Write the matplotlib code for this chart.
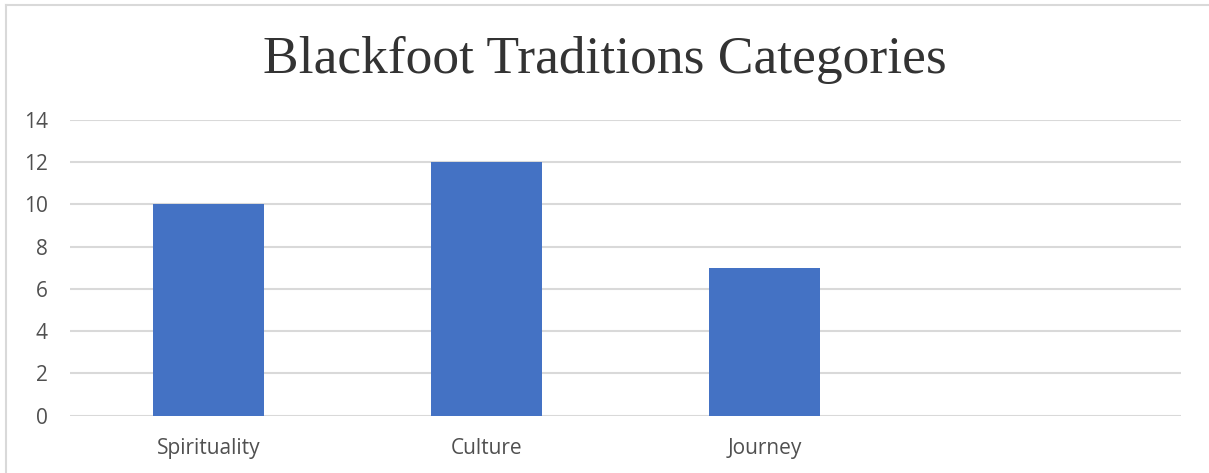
import matplotlib
matplotlib.use("Agg")
import matplotlib.pyplot as plt
from matplotlib.lines import Line2D

categories = ["Spirituality", "Culture", "Journey", ""]
counts = [10, 12, 7, 0]
y_ticks = [0, 2, 4, 6, 8, 10, 12, 14]

bar_color = "#4472C4"
grid_color = "#D9D9D9"
label_color = "#505050"

W, H = 1209, 473
fig = plt.figure(figsize=(W / 100, H / 100), dpi=100)
fig.patch.set_facecolor("white")

# chart frame edges (left and top)
fig.lines.append(Line2D([6 / W, 6 / W], [0, 1 - 5 / H], transform=fig.transFigure,
                        color="#D9D9D9", linewidth=1.5))
fig.lines.append(Line2D([6 / W, 1], [1 - 5 / H, 1 - 5 / H], transform=fig.transFigure,
                        color="#D9D9D9", linewidth=1.5))

ax = fig.add_axes([70 / W, 1 - 415.5 / H, (1181 - 70) / W, (415.5 - 120) / H])
x = list(range(len(categories)))
ax.bar(x, counts, width=0.4, color=bar_color, zorder=3)
ax.set_xlim(-0.5, len(categories) - 0.5)
ax.set_ylim(0, 14)
ax.set_yticks(y_ticks)
ax.set_xticks(x)
ax.set_xticklabels(categories)
ax.yaxis.grid(True, color=grid_color, linewidth=1.5, zorder=0)
ax.set_axisbelow(True)
for s in ax.spines.values():
    s.set_visible(False)
ax.tick_params(axis="both", length=0, labelsize=15, labelcolor=label_color)
ax.tick_params(axis="y", pad=16)
ax.tick_params(axis="x", pad=16)
for lbl in ax.get_xticklabels() + ax.get_yticklabels():
    lbl.set_fontfamily("Open Sans")

fig.text(0.5, 1 - 60 / H, "Blackfoot Traditions Categories", ha="center", va="center",
         fontsize=38.5, fontfamily="Liberation Serif", color="#333333")

fig.savefig("out.png", dpi=100, facecolor="white")
